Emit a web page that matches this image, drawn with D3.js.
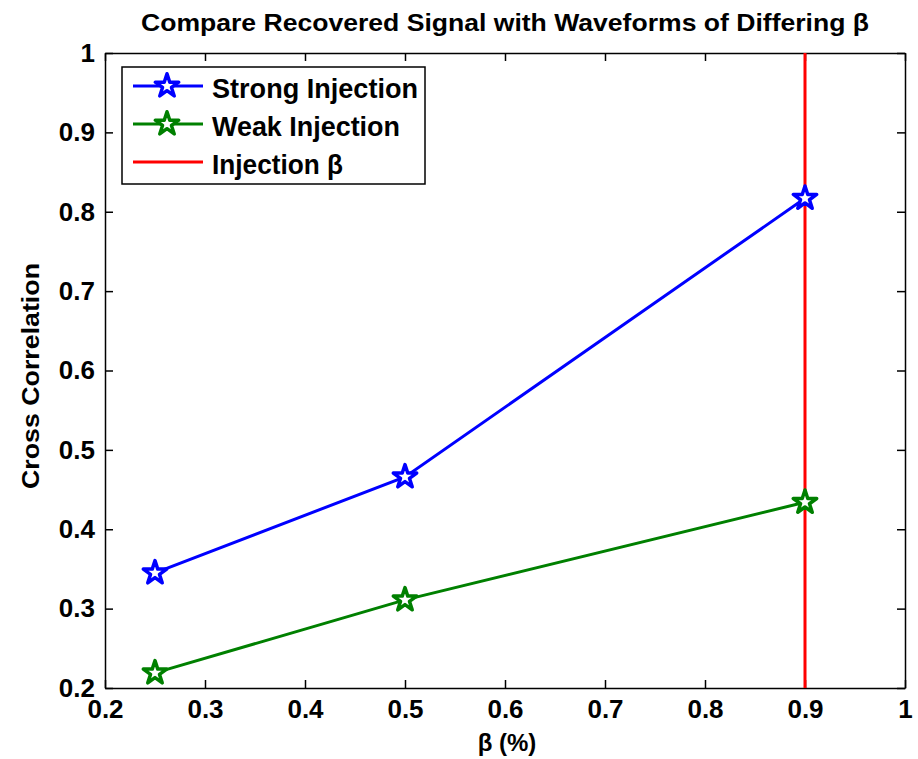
<!DOCTYPE html>
<html>
<head>
<meta charset="utf-8">
<script src="https://cdn.jsdelivr.net/npm/d3@7"></script>
<style>
  body { margin: 0; background: #fff; }
  text { font-family: "Liberation Sans", Arial, sans-serif; font-weight: bold; }
</style>
</head>
<body>
<div id="chart"></div>
<script>
var width = 918;
var height = 759;

// data
var betaVals = [0.25, 0.5, 0.9];
var strongVals = [0.345, 0.466, 0.817];
var weakVals = [0.219, 0.311, 0.434];
var injectionBeta = 0.9;
var xTicks = [0.2, 0.3, 0.4, 0.5, 0.6, 0.7, 0.8, 0.9, 1];
var yTicks = [0.2, 0.3, 0.4, 0.5, 0.6, 0.7, 0.8, 0.9, 1];
var seriesNames = ["Strong Injection", "Weak Injection", "Injection \u03b2"];
var seriesColors = ["#0000ff", "#008000", "#ff0000"];

var margin = {left: 105, right: 13, top: 53, bottom: 71};

var xScale = d3.scaleLinear().domain([0.2, 1]).range([margin.left, width - margin.right]);
var yScale = d3.scaleLinear().domain([0.2, 1]).range([height - margin.bottom, margin.top]);

var svg = d3.select("#chart")
    .append("svg")
    .attr("width", width)
    .attr("height", height);

var fmt = function(d) { return d === 1 ? "1" : d3.format(".1f")(d); };

// axes, ticks pointing inward on all four sides
svg.append("g")
    .attr("class", "axis")
    .attr("transform", "translate(0," + yScale(0.2) + ")")
    .call(d3.axisBottom(xScale).tickValues(xTicks).tickFormat(fmt).tickSizeInner(-8).tickSizeOuter(0).tickPadding(12));
svg.append("g")
    .attr("class", "axis")
    .attr("transform", "translate(0," + yScale(1) + ")")
    .call(d3.axisTop(xScale).tickValues(xTicks).tickFormat("").tickSizeInner(-8).tickSizeOuter(0));
svg.append("g")
    .attr("class", "axis")
    .attr("transform", "translate(" + xScale(0.2) + ",0)")
    .call(d3.axisLeft(yScale).tickValues(yTicks).tickFormat(fmt).tickSizeInner(-8).tickSizeOuter(0).tickPadding(10));
svg.append("g")
    .attr("class", "axis")
    .attr("transform", "translate(" + xScale(1) + ",0)")
    .call(d3.axisRight(yScale).tickValues(yTicks).tickFormat("").tickSizeInner(-8).tickSizeOuter(0));

svg.selectAll(".axis path, .axis line").attr("stroke", "#000").attr("stroke-width", 1.5);
svg.selectAll(".axis text").attr("font-size", 26).attr("fill", "#000")
    .style("font-family", "'Liberation Sans', Arial, sans-serif").style("font-weight", "bold");

// injection beta line
svg.append("line")
    .attr("x1", xScale(injectionBeta)).attr("x2", xScale(injectionBeta))
    .attr("y1", yScale(1)).attr("y2", yScale(0.2))
    .attr("stroke", seriesColors[2])
    .attr("stroke-width", 3);

var star = d3.symbol().type(d3.symbolStar).size(170);

function drawSeries(vals, color) {
    var pts = betaVals.map(function(b, i) { return [b, vals[i]]; });
    svg.append("path")
        .datum(pts)
        .attr("fill", "none")
        .attr("stroke", color)
        .attr("stroke-width", 3)
        .attr("d", d3.line().x(function(d) { return xScale(d[0]); }).y(function(d) { return yScale(d[1]); }));
    svg.selectAll(null)
        .data(pts)
        .enter()
        .append("path")
        .attr("d", star)
        .attr("transform", function(d) { return "translate(" + xScale(d[0]) + "," + yScale(d[1]) + ")"; })
        .attr("fill", "#fff")
        .attr("stroke", color)
        .attr("stroke-width", 3.5)
        .attr("stroke-linejoin", "round");
}
drawSeries(strongVals, seriesColors[0]);
drawSeries(weakVals, seriesColors[1]);

// legend
var legendWidths = [206, 188, 131];
var legend = svg.append("g").attr("transform", "translate(122,67)");
legend.append("rect")
    .attr("width", 303).attr("height", 117)
    .attr("fill", "#fff").attr("stroke", "#000").attr("stroke-width", 1.5);
seriesNames.forEach(function(name, i) {
    var y = 19 + i * 38;
    legend.append("line")
        .attr("x1", 11).attr("x2", 81).attr("y1", y).attr("y2", y)
        .attr("stroke", seriesColors[i]).attr("stroke-width", 3);
    if (i < 2) {
        legend.append("path")
            .attr("d", star)
            .attr("transform", "translate(45," + y + ")")
            .attr("fill", "#fff").attr("stroke", seriesColors[i]).attr("stroke-width", 3.5)
            .attr("stroke-linejoin", "round");
    }
    legend.append("text")
        .attr("x", 90).attr("y", y + 12)
        .attr("font-size", 27)
        .attr("textLength", legendWidths[i])
        .attr("lengthAdjust", "spacingAndGlyphs")
        .text(name);
});

// title and axis labels
svg.append("text")
    .attr("x", 505).attr("y", 31)
    .attr("text-anchor", "middle")
    .attr("font-size", 24)
    .attr("textLength", 728)
    .attr("lengthAdjust", "spacingAndGlyphs")
    .text("Compare Recovered Signal with Waveforms of Differing \u03b2");

svg.append("text")
    .attr("x", 507).attr("y", 751)
    .attr("text-anchor", "middle")
    .attr("font-size", 24)
    .text("\u03b2 (%)");

svg.append("text")
    .attr("transform", "translate(39,376) rotate(-90)")
    .attr("text-anchor", "middle")
    .attr("font-size", 24)
    .attr("textLength", 226)
    .attr("lengthAdjust", "spacingAndGlyphs")
    .text("Cross Correlation");
</script>
</body>
</html>
